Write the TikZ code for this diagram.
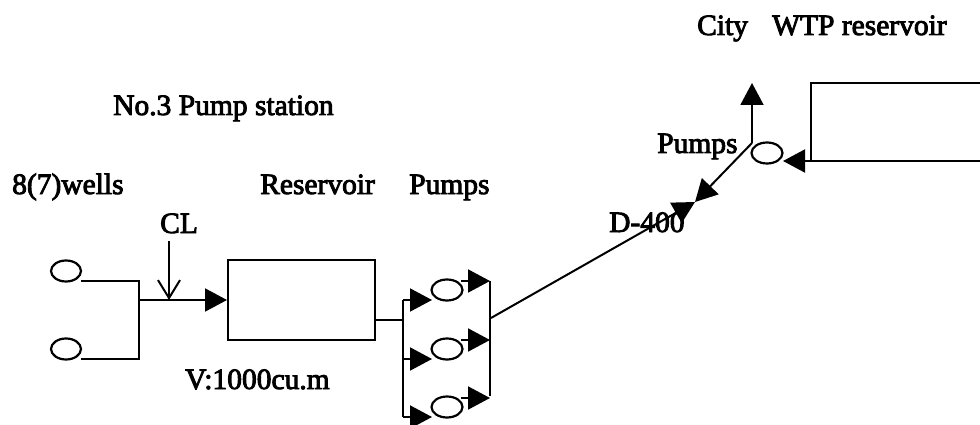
\documentclass[tikz,border=0pt]{standalone}
\usepackage{fontspec}
\setmainfont{Liberation Serif}[FakeBold=3]
\usetikzlibrary{arrows.meta, shapes.geometric}
\tikzset{>=latex}
\tikzset{
    pipe/.style={line width=2pt},
    flow/.style={pipe, -{Triangle[length=22pt,width=23pt]}, shorten >=0pt},
    pumpunit/.style={draw, line width=2.2pt, ellipse, inner sep=0pt, minimum width=31pt, minimum height=21pt},
    tank/.style={draw, line width=2pt, inner sep=0pt, minimum width=147pt, minimum height=80pt},
    lab/.style={font=\fontsize{29.5}{32}\selectfont, inner sep=0pt, text=black, anchor=base west}
}

\begin{document}
\begin{tikzpicture}[x=1pt, y=-1pt]
    \useasboundingbox (0, 0) rectangle (980, 425);

    % Labels
    \node[lab] (cityname) at (697, 35) {City};
    \node[lab] (wtpname) at (772, 35) {WTP reservoir};
    \node[lab] (stationname) at (113, 115) {No.3 Pump station};
    \node[lab] (wellsname) at (12, 194) {8(7)wells};
    \node[lab] (resname) at (260, 194) {Reservoir};
    \node[lab] (pumpsname) at (409, 194) {Pumps};
    \node[lab] (clname) at (160, 233) {CL};
    \node[lab] (volname) at (185, 389) {V:1000cu.m};
    \node[lab] (cityPumps) at (657, 153) {Pumps};

    % Wells
    \node[pumpunit, minimum width=30pt] (wellA) at (66, 271) {};
    \node[pumpunit, minimum width=30pt] (wellB) at (66, 349) {};
    \coordinate (wellOutA) at (81, 281);
    \coordinate (wellOutB) at (81, 359);
    \coordinate (wellTop) at (139, 281);
    \coordinate (wellBot) at (139, 359);
    \coordinate (wellJoin) at (139, 300);
    \draw[pipe] (wellOutA) -- (wellTop) -- (wellBot) -- (wellOutB);

    % Reservoir
    \node[tank] (reservoir) at (301.5, 300) {};
    \draw[flow] (wellJoin) -- (reservoir.west);

    % Chlorine
    \coordinate (clTop) at (169, 241);
    \coordinate (clEnd) at (169, 300);
    \draw[pipe, -{Straight Barb[length=18pt,width=22pt,line width=2pt]}] (clTop) -- (clEnd);

    % Pumps
    \coordinate (resOut) at (375, 320);
    \coordinate (headIn) at (403, 320);
    \coordinate (headTop) at (403, 300);
    \coordinate (headBot) at (403, 417);
    \coordinate (outTop) at (490, 281);
    \coordinate (outBot) at (490, 396);
    \draw[pipe] (resOut) -- (headIn);
    \draw[pipe] (headTop) -- (headBot);
    \draw[pipe] (outTop) -- (outBot);
    \foreach \n/\y in {1/290, 2/349, 3/407}{
        \node[pumpunit] (pump\n) at (447, \y) {};
        \coordinate (in\n) at (403, \y + 10);
        \coordinate (tip\n) at (432, \y + 10);
        \coordinate (from\n) at (461, \y - 9);
        \coordinate (to\n) at (490, \y - 9);
        \draw[flow] (in\n) -- (tip\n);
        \draw[flow] (from\n) -- (to\n);
    }

    % Main to city
    \coordinate (mainStart) at (491, 318);
    \coordinate (mainEnd) at (695, 202);
    \coordinate (bend) at (752, 143);
    \coordinate (cityTip) at (752, 83);
    \node[lab] (dname) at (609, 232) {D-400};
    \draw[flow] (mainStart) -- (mainEnd);
    \draw[flow] (bend) -- (mainEnd);
    \draw[flow] (bend) -- (cityTip);

    % City reservoir
    \node[pumpunit] (cityPump) at (767, 153) {};
    \coordinate (wtpTopEnd) at (980, 83);
    \coordinate (wtpTop) at (811, 83);
    \coordinate (wtpBot) at (811, 161);
    \coordinate (wtpBotEnd) at (980, 161);
    \coordinate (wtpTip) at (783, 161);
    \draw[pipe] (wtpTopEnd) -- (wtpTop) -- (wtpBot) -- (wtpBotEnd);
    \draw[flow] (wtpBot) -- (wtpTip);
\end{tikzpicture}
\end{document}
